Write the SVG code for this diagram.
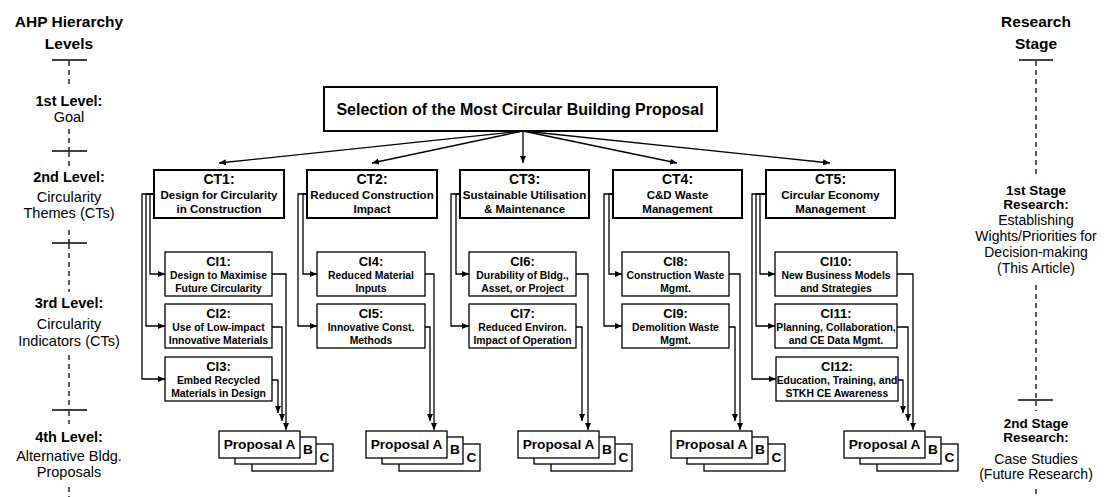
<svg xmlns="http://www.w3.org/2000/svg" width="1110" height="497" viewBox="0 0 1110 497">
<defs>
<marker id="ah" markerUnits="userSpaceOnUse" markerWidth="8" markerHeight="7" refX="7" refY="3" orient="auto">
<path d="M0,0 L7,3 L0,6 z" fill="#000"/>
</marker>
<style>
text{font-family:"Liberation Sans",Arial,sans-serif;fill:#000;text-anchor:middle}
.b{font-weight:bold}
.hd{font-size:15.5px;font-weight:bold}
.lv{font-size:14.5px}
.rs{font-size:14px}
.rsb{font-size:13.5px;font-weight:bold}
.goal{fill:#fff;stroke:#000;stroke-width:2}
.ct{fill:#fff;stroke:#000;stroke-width:2}
.ci{fill:#fff;stroke:#000;stroke-width:1.3}
.pr{fill:#fff;stroke:#000;stroke-width:1.3}
.ctl{font-size:14px;font-weight:bold}
.ctd{font-size:11.5px;font-weight:bold}
.cil{font-size:13px;font-weight:bold}
.cid{font-size:10.4px;font-weight:bold}
.pt{font-size:13.7px;font-weight:bold}
.con{fill:none;stroke:#000;stroke-width:1.3;marker-end:url(#ah)}
.tick{stroke:#000;stroke-width:1.3}
.dash{stroke:#000;stroke-width:1.3;stroke-dasharray:5 4;fill:none}
</style>
</defs>
<rect width="1110" height="497" fill="#fff"/>

<g id="levels">
<text class="hd" x="69" y="27">AHP Hierarchy</text>
<text class="hd" x="69" y="49">Levels</text>
<line class="tick" x1="52" y1="60" x2="87" y2="60"/>
<line class="tick" x1="52" y1="151" x2="87" y2="151"/>
<line class="tick" x1="52" y1="243" x2="87" y2="243"/>
<line class="tick" x1="52" y1="410" x2="87" y2="410"/>
<path class="dash" d="M69,61 V86 M69,129 V151 M69,152 V167 M69,230 V243 M69,244 V292 M69,355 V410 M69,411 V424 M69,487 V497"/>
<text class="lv b" x="69" y="106">1st Level:</text>
<text class="lv" x="69" y="122">Goal</text>
<text class="lv b" x="69" y="182">2nd Level:</text>
<text class="lv" x="69" y="202">Circularity</text>
<text class="lv" x="69" y="218">Themes (CTs)</text>
<text class="lv b" x="69" y="308">3rd Level:</text>
<text class="lv" x="69" y="329">Circularity</text>
<text class="lv" x="69" y="346">Indicators (CTs)</text>
<text class="lv b" x="69" y="442">4th Level:</text>
<text class="lv" x="69" y="461">Alternative Bldg.</text>
<text class="lv" x="69" y="477">Proposals</text>
</g>

<g id="stages">
<text class="hd" x="1036" y="27">Research</text>
<text class="hd" x="1036" y="49">Stage</text>
<line class="tick" x1="1019" y1="60" x2="1053" y2="60"/>
<line class="tick" x1="1018" y1="400" x2="1053" y2="400"/>
<path class="dash" d="M1036,61 V176 M1036,285 V400 M1036,401 V411 M1036,489 V497"/>
<text class="rsb" x="1036" y="195">1st Stage</text>
<text class="rsb" x="1036" y="209">Research:</text>
<text class="rs" x="1036" y="225">Establishing</text>
<text class="rs" x="1036" y="241">Wights/Priorities for</text>
<text class="rs" x="1036" y="257">Decision-making</text>
<text class="rs" x="1036" y="273">(This Article)</text>
<text class="rsb" x="1036" y="428">2nd Stage</text>
<text class="rsb" x="1036" y="442">Research:</text>
<text class="rs" x="1036" y="464">Case Studies</text>
<text class="rs" x="1036" y="479">(Future Research)</text>
</g>

<g id="connectors">
<path class="con" d="M523,131 L219,163"/>
<path class="con" d="M523,131 L372,163"/>
<path class="con" d="M523,131 L523,163"/>
<path class="con" d="M523,131 L677,163"/>
<path class="con" d="M523,131 L830,163"/>

<path class="con" d="M154,194 H150 V274 H165"/>
<path class="con" d="M154,194 H146 V326 H165"/>
<path class="con" d="M154,194 H142 V379 H165"/>
<path class="con" d="M307,194 H303 V274 H317"/>
<path class="con" d="M307,194 H298 V326 H317"/>
<path class="con" d="M460,194 H456 V274 H469"/>
<path class="con" d="M460,194 H451 V326 H469"/>
<path class="con" d="M613,194 H609 V274 H622"/>
<path class="con" d="M613,194 H604 V326 H622"/>
<path class="con" d="M766,194 H760 V274 H775"/>
<path class="con" d="M766,194 H756 V326 H775"/>
<path class="con" d="M766,194 H752 V379 H776"/>

<path class="con" d="M272,274 H286 V430"/>
<path class="con" d="M272,327 H282 V421"/>
<path class="con" d="M272,380 H278 V413"/>
<path class="con" d="M425,274 H434 V430"/>
<path class="con" d="M425,327 H430 V421"/>
<path class="con" d="M576,274 H588 V430"/>
<path class="con" d="M576,327 H582 V421"/>
<path class="con" d="M729,274 H740 V430"/>
<path class="con" d="M729,327 H735 V421"/>
<path class="con" d="M897,274 H913 V430"/>
<path class="con" d="M897,327 H908 V421"/>
<path class="con" d="M898,380 H903 V413"/>
</g>

<g id="goal">
<rect class="goal" x="324" y="87" width="393" height="44"/>
<text x="520" y="115" style="font-size:16px;font-weight:bold">Selection of the Most Circular Building Proposal</text>
</g>

<g id="ct1">
<rect class="ct" x="154" y="170" width="130" height="48"/>
<text class="ctl" x="219" y="184">CT1:</text>
<text class="ctd" x="219" y="199">Design for Circularity</text>
<text class="ctd" x="219" y="213">in Construction</text>
</g>
<g id="ct2">
<rect class="ct" x="307" y="170" width="130" height="48"/>
<text class="ctl" x="372" y="184">CT2:</text>
<text class="ctd" x="372" y="199">Reduced Construction</text>
<text class="ctd" x="372" y="213">Impact</text>
</g>
<g id="ct3">
<rect class="ct" x="460" y="170" width="129" height="48"/>
<text class="ctl" x="524.5" y="184">CT3:</text>
<text class="ctd" x="524.5" y="199">Sustainable Utilisation</text>
<text class="ctd" x="524.5" y="213">&amp; Maintenance</text>
</g>
<g id="ct4">
<rect class="ct" x="613" y="170" width="129" height="48"/>
<text class="ctl" x="677.5" y="184">CT4:</text>
<text class="ctd" x="677.5" y="199">C&amp;D Waste</text>
<text class="ctd" x="677.5" y="213">Management</text>
</g>
<g id="ct5">
<rect class="ct" x="766" y="170" width="129" height="48"/>
<text class="ctl" x="830.5" y="184">CT5:</text>
<text class="ctd" x="830.5" y="199">Circular Economy</text>
<text class="ctd" x="830.5" y="213">Management</text>
</g>

<g id="ci1">
<rect class="ci" x="165" y="252" width="107" height="44"/>
<text class="cil" x="218.5" y="266">CI1:</text>
<text class="cid" x="218.5" y="279">Design to Maximise</text>
<text class="cid" x="218.5" y="292">Future Circularity</text>
</g>
<g id="ci2">
<rect class="ci" x="165" y="304" width="107" height="44"/>
<text class="cil" x="218.5" y="318">CI2:</text>
<text class="cid" x="218.5" y="331">Use of Low-impact</text>
<text class="cid" x="218.5" y="344">Innovative Materials</text>
</g>
<g id="ci3">
<rect class="ci" x="165" y="357" width="107" height="44"/>
<text class="cil" x="218.5" y="371">CI3:</text>
<text class="cid" x="218.5" y="384">Embed Recycled</text>
<text class="cid" x="218.5" y="397">Materials in Design</text>
</g>
<g id="ci4">
<rect class="ci" x="317" y="252" width="108" height="44"/>
<text class="cil" x="371" y="266">CI4:</text>
<text class="cid" x="371" y="279">Reduced Material</text>
<text class="cid" x="371" y="292">Inputs</text>
</g>
<g id="ci5">
<rect class="ci" x="317" y="304" width="108" height="44"/>
<text class="cil" x="371" y="318">CI5:</text>
<text class="cid" x="371" y="331">Innovative Const.</text>
<text class="cid" x="371" y="344">Methods</text>
</g>
<g id="ci6">
<rect class="ci" x="469" y="252" width="107" height="44"/>
<text class="cil" x="522.5" y="266">CI6:</text>
<text class="cid" x="522.5" y="279">Durability of Bldg.,</text>
<text class="cid" x="522.5" y="292">Asset, or Project</text>
</g>
<g id="ci7">
<rect class="ci" x="469" y="304" width="107" height="44"/>
<text class="cil" x="522.5" y="318">CI7:</text>
<text class="cid" x="522.5" y="331">Reduced Environ.</text>
<text class="cid" x="522.5" y="344">Impact of Operation</text>
</g>
<g id="ci8">
<rect class="ci" x="622" y="252" width="107" height="44"/>
<text class="cil" x="675.5" y="266">CI8:</text>
<text class="cid" x="675.5" y="279">Construction Waste</text>
<text class="cid" x="675.5" y="292">Mgmt.</text>
</g>
<g id="ci9">
<rect class="ci" x="622" y="304" width="107" height="44"/>
<text class="cil" x="675.5" y="318">CI9:</text>
<text class="cid" x="675.5" y="331">Demolition Waste</text>
<text class="cid" x="675.5" y="344">Mgmt.</text>
</g>
<g id="ci10">
<rect class="ci" x="775" y="252" width="122" height="44"/>
<text class="cil" x="836" y="266">CI10:</text>
<text class="cid" x="836" y="279">New Business Models</text>
<text class="cid" x="836" y="292">and Strategies</text>
</g>
<g id="ci11">
<rect class="ci" x="775" y="304" width="122" height="44"/>
<text class="cil" x="836" y="318">CI11:</text>
<text class="cid" x="836" y="331">Planning, Collaboration,</text>
<text class="cid" x="836" y="344">and CE Data Mgmt.</text>
</g>
<g id="ci12">
<rect class="ci" x="776" y="357" width="122" height="44"/>
<text class="cil" x="837" y="371">CI12:</text>
<text class="cid" x="837" y="384">Education, Training, and</text>
<text class="cid" x="837" y="397">STKH CE Awareness</text>
</g>

<g id="prop1">
<rect class="pr" x="252" y="444" width="81" height="27"/>
<rect class="pr" x="235" y="437" width="81" height="27"/>
<rect class="pr" x="219" y="431" width="81" height="27"/>
<text class="pt" x="259.5" y="449">Proposal A</text>
<text class="pt" x="308" y="454">B</text>
<text class="pt" x="324.5" y="462">C</text>
</g>
<g id="prop2">
<rect class="pr" x="399" y="444" width="81" height="27"/>
<rect class="pr" x="382" y="437" width="81" height="27"/>
<rect class="pr" x="366" y="431" width="81" height="27"/>
<text class="pt" x="406.5" y="449">Proposal A</text>
<text class="pt" x="455" y="454">B</text>
<text class="pt" x="471.5" y="462">C</text>
</g>
<g id="prop3">
<rect class="pr" x="551" y="444" width="81" height="27"/>
<rect class="pr" x="534" y="437" width="81" height="27"/>
<rect class="pr" x="518" y="431" width="81" height="27"/>
<text class="pt" x="558.5" y="449">Proposal A</text>
<text class="pt" x="607" y="454">B</text>
<text class="pt" x="623.5" y="462">C</text>
</g>
<g id="prop4">
<rect class="pr" x="704" y="444" width="81" height="27"/>
<rect class="pr" x="687" y="437" width="81" height="27"/>
<rect class="pr" x="671" y="431" width="81" height="27"/>
<text class="pt" x="711.5" y="449">Proposal A</text>
<text class="pt" x="760" y="454">B</text>
<text class="pt" x="776.5" y="462">C</text>
</g>
<g id="prop5">
<rect class="pr" x="877" y="444" width="81" height="27"/>
<rect class="pr" x="860" y="437" width="81" height="27"/>
<rect class="pr" x="844" y="431" width="81" height="27"/>
<text class="pt" x="884.5" y="449">Proposal A</text>
<text class="pt" x="933" y="454">B</text>
<text class="pt" x="949.5" y="462">C</text>
</g>
</svg>
